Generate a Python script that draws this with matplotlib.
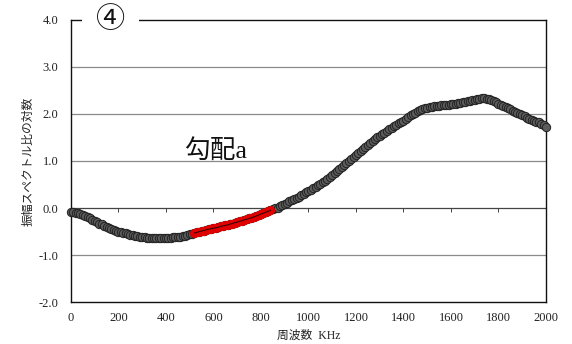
import matplotlib
matplotlib.use("Agg")
import matplotlib.pyplot as plt
import numpy as np

freq = list(range(0, 2001, 10))
logratio = [
    -0.08, -0.09, -0.10, -0.11, -0.13, -0.15, -0.17, -0.19, -0.22, -0.25,
    -0.28, -0.30, -0.33, -0.35, -0.38, -0.40, -0.42, -0.44, -0.46, -0.48,
    -0.50, -0.51, -0.53, -0.54, -0.56, -0.57, -0.58, -0.59, -0.60, -0.61,
    -0.62, -0.62, -0.63, -0.63, -0.64, -0.64, -0.64, -0.64, -0.64, -0.64,
    -0.64, -0.63, -0.63, -0.62, -0.62, -0.61, -0.61, -0.60, -0.59, -0.58,
    -0.56, -0.55, -0.53, -0.52, -0.50, -0.49, -0.48, -0.46, -0.45, -0.44,
    -0.43, -0.42, -0.41, -0.39, -0.38, -0.37, -0.36, -0.34, -0.33, -0.31,
    -0.30, -0.28, -0.27, -0.25, -0.24, -0.22, -0.21, -0.19, -0.17, -0.15,
    -0.13, -0.11, -0.09, -0.07, -0.05, -0.03, -0.01, 0.01, 0.04, 0.06,
    0.09, 0.11, 0.14, 0.16, 0.19, 0.21, 0.24, 0.27, 0.30, 0.33,
    0.36, 0.39, 0.42, 0.45, 0.48, 0.51, 0.55, 0.58, 0.62, 0.66,
    0.70, 0.74, 0.78, 0.82, 0.87, 0.91, 0.96, 1.00, 1.04, 1.09,
    1.13, 1.18, 1.22, 1.26, 1.30, 1.34, 1.38, 1.42, 1.46, 1.50,
    1.53, 1.57, 1.60, 1.64, 1.67, 1.71, 1.74, 1.77, 1.80, 1.83,
    1.86, 1.90, 1.93, 1.97, 2.00, 2.03, 2.06, 2.08, 2.10, 2.12,
    2.13, 2.14, 2.15, 2.16, 2.17, 2.18, 2.19, 2.19, 2.20, 2.20,
    2.21, 2.21, 2.22, 2.23, 2.24, 2.25, 2.26, 2.27, 2.28, 2.29,
    2.30, 2.31, 2.32, 2.33, 2.33, 2.32, 2.31, 2.29, 2.27, 2.25,
    2.22, 2.20, 2.17, 2.15, 2.12, 2.10, 2.07, 2.05, 2.02, 2.00,
    1.97, 1.95, 1.92, 1.90, 1.88, 1.86, 1.84, 1.82, 1.79, 1.76,
    1.73,
]
slope_start, slope_end = 520, 840

xticks = list(range(0, 2001, 200))
yticks = [-2.0, -1.0, 0.0, 1.0, 2.0, 3.0, 4.0]
xlabel = "周波数  KHz"
ylabel = "振幅スペクトル比の対数"
note = "勾配a"
panel = "④"

fam = ["Liberation Serif", "Noto Sans CJK JP", "DejaVu Sans"]
plt.rcParams["font.family"] = fam

fig = plt.figure(figsize=(5.72, 3.44), dpi=100)
ax = fig.add_axes([0.124, 0.122, 0.8305, 0.820])

ax.set_xlim(0, 2000)
ax.set_ylim(-2.0, 4.0)
ax.set_xticks(xticks)
ax.set_yticks(yticks)
ax.set_yticklabels([f"{v:.1f}" for v in yticks])
ax.tick_params(axis="both", length=0, labelsize=9, colors="#222222")
ax.tick_params(axis="x", pad=7)
ax.tick_params(axis="y", pad=9)

for v in yticks:
    if v not in (-2.0, 0.0, 4.0):
        ax.axhline(v, color="#8a8a8a", lw=0.9, zorder=1)
ax.axhline(0.0, color="#444444", lw=0.9, zorder=1)

sec = ax.secondary_xaxis(1.0 / 3.0)
sec.set_xticks(xticks)
sec.tick_params(axis="x", direction="out", length=3, width=0.7, colors="#444444",
                labelbottom=False, labeltop=False)
sec.spines["bottom"].set_visible(False)
sec.spines["top"].set_visible(False)

for s in ax.spines.values():
    s.set_color("#111111")
    s.set_linewidth(1.0)

x = np.array(freq)
y = np.array(logratio)
ax.plot(x, y, linestyle="none", marker="o", markersize=6.0,
        markerfacecolor="#5c5c5c", markeredgecolor="#222222", markeredgewidth=0.7,
        zorder=3, clip_on=False)

m = (x >= slope_start) & (x <= slope_end)
ax.plot(x[m], y[m], linestyle="none", marker="o", markersize=6.0,
        markerfacecolor="#e00000", markeredgecolor="#e00000", markeredgewidth=0.5, zorder=4)
ax.plot(x[m], y[m], color="#3a0000", lw=0.8, zorder=5)

ax.text(475, 1.22, note, fontsize=18.5, ha="left", va="center", color="#111111")
ax.text(0.0825, 1.0, panel, transform=ax.transAxes, fontsize=21, ha="center", va="center",
        color="#111111", family=["Noto Sans CJK JP", "DejaVu Sans"],
        bbox=dict(facecolor="white", edgecolor="none", pad=10), zorder=6, clip_on=False)

ax.set_xlabel(xlabel, fontsize=8.5, labelpad=4, color="#222222")
ax.set_ylabel(ylabel, fontsize=8.5, labelpad=3, color="#222222")

fig.savefig("out.png", dpi=100)
